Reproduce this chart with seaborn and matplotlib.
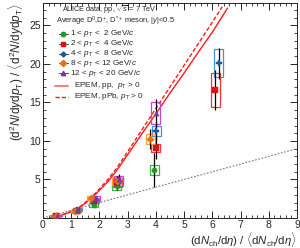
import numpy as np
import pandas as pd
import seaborn as sns
import matplotlib.pyplot as plt
from matplotlib.patches import Rectangle
from matplotlib.ticker import MultipleLocator

sns.set_style("ticks")
plt.rcParams["font.family"] = ["Liberation Sans", "DejaVu Sans"]
plt.rcParams["mathtext.fontset"] = "custom"
plt.rcParams["mathtext.rm"] = "Liberation Sans"
plt.rcParams["mathtext.it"] = "Liberation Sans:italic"

# pT bins
bin_labels = [r"1 < $p_{\mathrm{T}}$ <  2 GeV/$c$",
              r"2 < $p_{\mathrm{T}}$ <  4 GeV/$c$",
              r"4 < $p_{\mathrm{T}}$ <  8 GeV/$c$",
              r"8 < $p_{\mathrm{T}}$ < 12 GeV/$c$",
              r"12 < $p_{\mathrm{T}}$ < 20 GeV/$c$"]
model_labels = [r"EPEM, pp,  $p_{\mathrm{T}}$ > 0", r"EPEM, pPb, $p_{\mathrm{T}}$ > 0"]
marker_colors = ["#1f9a1f", "#e01010", "#1a5a9e", "#e8700e", "#7a3a9a"]
box_colors = ["#3cb43c", "#ff3030", "#4a8fd0", "#ffa040", "#cc44cc"]
markers = ["o", "s", "P", "D", "^"]

# relative multiplicity (x), relative yield (y), stat and syst uncertainties
x_b1 = [0.46, 1.17, 1.80, 2.62, 3.95]
y_b1 = [0.30, 0.85, 1.70, 4.10, 6.20]
stat_b1 = [0.05, 0.10, 0.30, 0.50, 2.20]
sys_b1 = [0.12, 0.15, 0.25, 0.50, 0.65]

x_b2 = [0.48, 1.20, 1.82, 2.64, 4.00, 6.11]
y_b2 = [0.30, 0.95, 2.20, 4.50, 9.10, 16.60]
stat_b2 = [0.05, 0.10, 0.30, 0.60, 1.50, 2.60]
sys_b2 = [0.10, 0.15, 0.20, 0.50, 0.50, 2.20]

x_b3 = [0.50, 1.22, 1.84, 2.66, 4.02, 6.22]
y_b3 = [0.32, 1.10, 2.30, 4.70, 11.30, 20.10]
stat_b3 = [0.05, 0.10, 0.30, 0.60, 1.20, 2.00]
sys_b3 = [0.10, 0.15, 0.25, 0.50, 0.60, 1.80]

x_b4 = [0.47, 1.15, 1.72, 2.62, 3.80]
y_b4 = [0.30, 0.95, 2.60, 4.80, 10.30]
stat_b4 = [0.05, 0.10, 0.30, 0.60, 1.30]
sys_b4 = [0.12, 0.15, 0.30, 0.55, 0.65]

x_b5 = [0.50, 1.20, 1.87, 2.68, 4.00]
y_b5 = [0.30, 1.05, 2.55, 5.00, 13.60]
stat_b5 = [0.05, 0.10, 0.35, 0.70, 1.80]
sys_b5 = [0.10, 0.15, 0.30, 0.50, 1.40]

# EPEM curves
epem_pp_x = [0.25, 0.6, 1.0, 1.2, 1.5, 1.9, 2.3, 2.6, 3.0, 3.5, 4.0, 4.5, 5.0, 5.5, 6.0, 6.55]
epem_pp_y = [0.0, 0.3, 0.8, 1.1, 1.9, 3.2, 4.7, 6.1, 8.2, 10.9, 13.5, 16.2, 18.8, 21.5, 24.1, 27.3]
epem_ppb_x = [0.25, 0.6, 1.0, 1.2, 1.5, 1.9, 2.3, 2.6, 3.0, 3.5, 4.0, 4.5, 5.0, 5.5, 6.0, 6.35]
epem_ppb_y = [0.0, 0.3, 0.85, 1.15, 2.0, 3.35, 5.0, 6.4, 8.6, 11.4, 14.2, 17.0, 19.8, 22.6, 25.4, 27.4]
diag = [0, 9]

xs = [x_b1, x_b2, x_b3, x_b4, x_b5]
ys = [y_b1, y_b2, y_b3, y_b4, y_b5]
stats = [stat_b1, stat_b2, stat_b3, stat_b4, stat_b5]
syss = [sys_b1, sys_b2, sys_b3, sys_b4, sys_b5]

fig = plt.figure(figsize=(3.0, 2.48), dpi=100)
ax = fig.add_axes([0.143, 0.121, 0.847, 0.867])

ax.plot(diag, diag, color="#777777", ls=(0, (1.5, 1.5)), lw=0.8)
curves = pd.DataFrame({"x": epem_pp_x + epem_ppb_x,
                       "y": epem_pp_y + epem_ppb_y,
                       "model": ["pp"] * len(epem_pp_x) + ["pPb"] * len(epem_ppb_x)})
sns.lineplot(data=curves, x="x", y="y", hue="model", style="model",
             palette=["#ff1a1a", "#ff1a1a"], dashes=[(1, 0), (3, 1.5)],
             lw=1.0, sort=False, legend=False, ax=ax)

hw = 0.16
for i in range(5):
    for xi, yi, si in zip(xs[i], ys[i], syss[i]):
        ax.add_patch(Rectangle((xi - hw, yi - si), 2 * hw, 2 * si, fill=False,
                               ec=box_colors[i], lw=0.9, zorder=3))
    ax.errorbar(xs[i], ys[i], yerr=stats[i], fmt="none", ecolor="black",
                elinewidth=0.9, zorder=4)
    df = pd.DataFrame({"x": xs[i], "y": ys[i]})
    sns.scatterplot(data=df, x="x", y="y", marker=markers[i], color=marker_colors[i],
                    s=14, edgecolor=marker_colors[i], linewidth=0.3, zorder=5, ax=ax)

# hand-placed legend, ROOT style
tr = ax.transAxes
row_y = [0.856, 0.811, 0.765, 0.720, 0.674]
for i in range(5):
    ax.plot([0.063, 0.098], [row_y[i]] * 2, color="#444444", lw=0.7, transform=tr)
    ax.plot([0.080], [row_y[i]], marker=markers[i], color=marker_colors[i], ms=3.2,
            transform=tr, clip_on=False)
    ax.text(0.105, row_y[i], bin_labels[i], transform=tr, fontsize=5.9, va="center")
model_y = [0.614, 0.563]
ax.plot([0.047, 0.098], [model_y[0]] * 2, color="#ff7070", lw=1.3, transform=tr)
ax.plot([0.047, 0.098], [model_y[1]] * 2, color="#ff1a1a", lw=1.0, ls=(0, (3, 1.5)),
        transform=tr)
for yy, lab in zip(model_y, model_labels):
    ax.text(0.122, yy, lab, transform=tr, fontsize=5.9, va="center")

ax.text(0.075, 0.968, r"ALICE data, pp, $\sqrt{s}$ = 7 TeV", transform=tr,
        fontsize=5.3, va="center")
ax.text(0.05, 0.913, r"Average D$^{0}$,D$^{+}$, D$^{*+}$ meson, |$y$|<0.5",
        transform=tr, fontsize=5.4, va="center")

ax.set_xlim(0, 9)
ax.set_ylim(0, 27.9)
ax.xaxis.set_major_locator(MultipleLocator(1))
ax.xaxis.set_minor_locator(MultipleLocator(0.2))
ax.set_yticks([5, 10, 15, 20, 25])
ax.yaxis.set_minor_locator(MultipleLocator(1))
ax.tick_params(which="both", direction="in", top=True, right=True, labelsize=7.5, pad=1.5)
ax.tick_params(which="major", length=5, width=0.7)
ax.tick_params(which="minor", length=2.5, width=0.6)
for sp in ax.spines.values():
    sp.set_linewidth(0.7)

ax.set_xlabel(r"(d$N_{\mathrm{ch}}$/d$\eta$) / $\langle$d$N_{\mathrm{ch}}$/d$\eta\rangle$",
              fontsize=8.2, loc="right", labelpad=0)
ax.set_ylabel(r"(d$^{2}$$N$/d$y$d$p_{\mathrm{T}}$) / $\langle$d$^{2}$$N$/d$y$d$p_{\mathrm{T}}\rangle$",
              fontsize=8.5, loc="top", labelpad=2)

fig.savefig("out.png", dpi=100)
